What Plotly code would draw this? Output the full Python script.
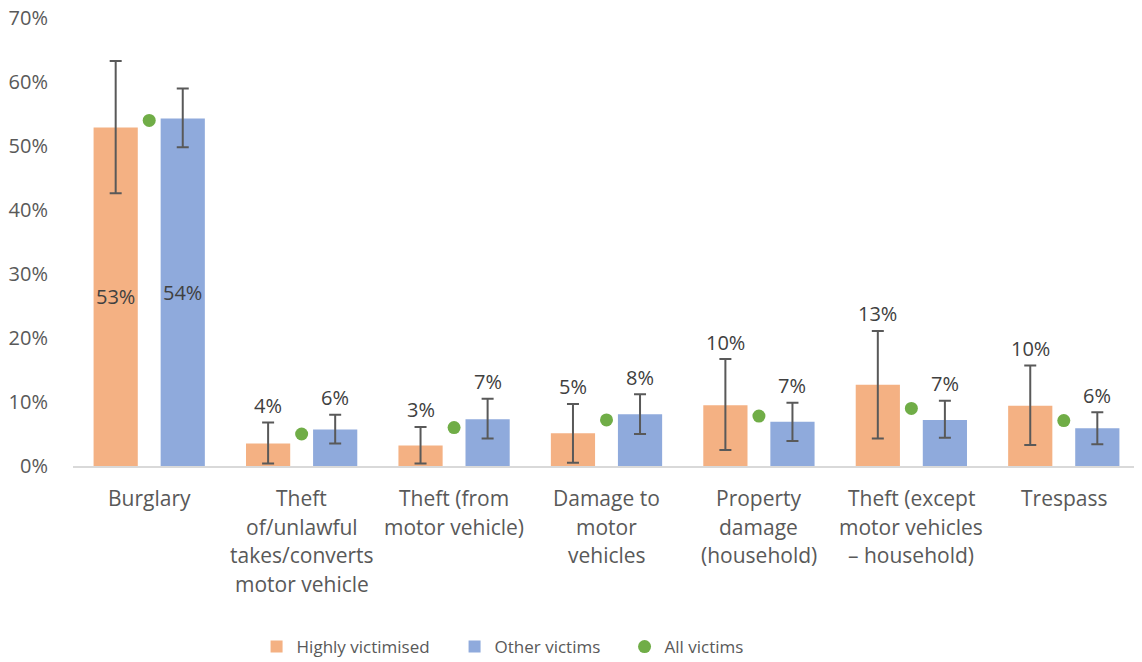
import plotly.graph_objects as go

# categories (one label line per list item)
categories = [
    ["Burglary"],
    ["Theft", "of/unlawful", "takes/converts", "motor vehicle"],
    ["Theft (from", "motor vehicle)"],
    ["Damage to", "motor", "vehicles"],
    ["Property", "damage", "(household)"],
    ["Theft (except", "motor vehicles", "– household)"],
    ["Trespass"],
]

# Highly victimised (%), with confidence interval ends
hv = [52.9, 3.5, 3.2, 5.1, 9.5, 12.7, 9.4]
hv_hi = [63.3, 6.8, 6.1, 9.7, 16.7, 21.1, 15.7]
hv_lo = [42.6, 0.4, 0.4, 0.5, 2.5, 4.3, 3.3]
hv_labels = ["53%", "4%", "3%", "5%", "10%", "13%", "10%"]

# Other victims (%)
ov = [54.3, 5.7, 7.3, 8.1, 6.9, 7.2, 5.9]
ov_hi = [59.0, 8.0, 10.5, 11.2, 9.9, 10.2, 8.4]
ov_lo = [49.8, 3.5, 4.3, 5.0, 3.9, 4.4, 3.4]
ov_labels = ["54%", "6%", "7%", "8%", "7%", "7%", "6%"]

# All victims (%)
allv = [54.0, 5.0, 6.0, 7.2, 7.8, 9.0, 7.1]

FONT = "Open Sans"
GREY = "#595959"
idx = list(range(len(categories)))
BW = 0.29
SHIFT = 0.22

fig = go.Figure()

fig.add_trace(go.Bar(
    x=idx, y=hv, name="Highly victimised", width=BW, offset=-SHIFT - BW / 2,
    marker_color="#F4B183", marker_line_width=0, legend="legend",
    error_y=dict(type="data", symmetric=False,
                 array=[h - v for h, v in zip(hv_hi, hv)],
                 arrayminus=[v - l for v, l in zip(hv, hv_lo)],
                 color=GREY, thickness=2, width=6),
))
fig.add_trace(go.Bar(
    x=idx, y=ov, name="Other victims", width=BW, offset=SHIFT - BW / 2,
    marker_color="#8FAADC", marker_line_width=0, legend="legend2",
    error_y=dict(type="data", symmetric=False,
                 array=[h - v for h, v in zip(ov_hi, ov)],
                 arrayminus=[v - l for v, l in zip(ov, ov_lo)],
                 color=GREY, thickness=2, width=6),
))
fig.add_trace(go.Scatter(
    x=idx, y=allv, name="All victims", mode="markers", legend="legend3",
    marker=dict(color="#70AD47", size=13),
))

annotations = []
# value labels: Burglary inside the bars, others above the error bars
for i in idx:
    for xs, val, hi, lab in ((i - SHIFT, hv[i], hv_hi[i], hv_labels[i]),
                             (i + SHIFT, ov[i], ov_hi[i], ov_labels[i])):
        if i == 0:
            annotations.append(dict(x=xs, y=val / 2, text=lab, showarrow=False,
                                    font=dict(size=20, color="#404040", family=FONT)))
        else:
            annotations.append(dict(x=xs, y=hi, text=lab, showarrow=False,
                                    yanchor="middle", yshift=17,
                                    font=dict(size=20, color="#404040", family=FONT)))

# category labels
for i, lines in enumerate(categories):
    for k, line in enumerate(lines):
        annotations.append(dict(x=i, y=0, yref="paper", text=line, showarrow=False,
                                yanchor="middle", yshift=-32 - 28.5 * k,
                                font=dict(size=21, color=GREY, family=FONT)))

leg = dict(orientation="h", xref="container", yref="container", xanchor="left",
           y=0.0229, yanchor="middle", font=dict(size=17, color=GREY, family=FONT))

# page body adds an 8px margin, so the figure is 8px smaller each way
fig.update_layout(
    width=1134, height=654,
    margin=dict(l=65, r=2, t=10, b=196),
    plot_bgcolor="white", paper_bgcolor="white",
    font=dict(family=FONT, size=20, color=GREY),
    showlegend=True,
    legend=dict(leg, x=0.2192),
    legend2=dict(leg, x=0.3938),
    legend3=dict(leg, x=0.5437),
    annotations=annotations,
    xaxis=dict(range=[-0.5, 6.5], showticklabels=False, showgrid=False, zeroline=False,
               showline=True, linecolor="#D9D9D9", linewidth=2, automargin=False),
    yaxis=dict(range=[0, 70], dtick=10, ticksuffix="%", showgrid=False, zeroline=False,
               showline=False, ticklabelstandoff=24, automargin=False,
               ticklabeloverflow="allow",
               tickfont=dict(size=20, color=GREY, family=FONT)),
)

fig.write_html("out.html")
